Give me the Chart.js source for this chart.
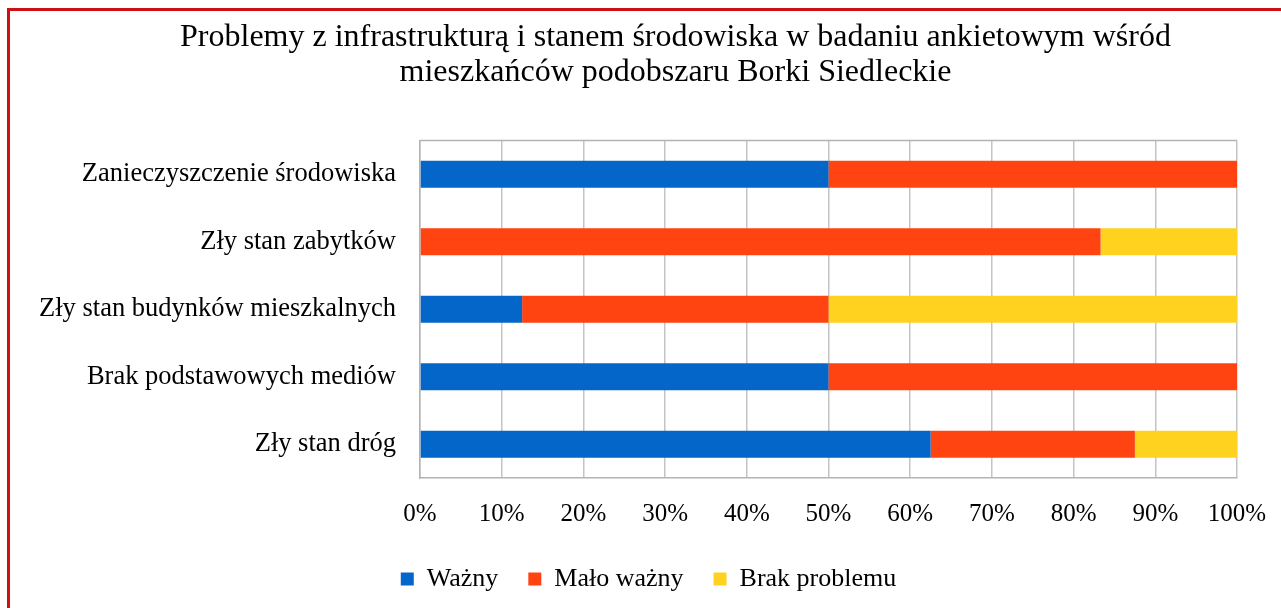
<!DOCTYPE html>
<html>
<head>
<meta charset="utf-8">
<script src="https://cdn.jsdelivr.net/npm/chart.js@4/dist/chart.umd.min.js"></script>
<style>
  html, body { margin: 0; padding: 0; background: #fff; overflow: hidden; }
  #frame { position: absolute; left: 7px; top: 8px; width: 1300px; height: 640px; border: 3px solid #d01010; box-sizing: border-box; }
  #wrap { position: absolute; left: 0; top: 0; width: 1281px; height: 608px; }
</style>
</head>
<body>
<div id="frame"></div>
<div id="wrap"><canvas id="chart"></canvas></div>
<script>
const categories = [
  'Zanieczyszczenie środowiska',
  'Zły stan zabytków',
  'Zły stan budynków mieszkalnych',
  'Brak podstawowych mediów',
  'Zły stan dróg',
]
const wazny = [50, 0, 12.5, 50, 62.5]
const maloWazny = [50, 83.3, 37.5, 50, 25]
const brakProblemu = [0, 16.7, 50, 0, 12.5]
const xTicks = [0, 10, 20, 30, 40, 50, 60, 70, 80, 90, 100]

const serif = "'Liberation Serif', 'Times New Roman', serif"

// top edge of the plot area + shift of title/legend (Excel centres them over a wider chart)
const framePlugin = {
  id: 'framePlugin',
  afterLayout(chart) {
    chart.titleBlock.left += 52
    chart.titleBlock.right += 52
    chart.legend.left += 25
    chart.legend.right += 25
  },
  afterDatasetsDraw(chart) {
    const a = chart.chartArea
    const ctx = chart.ctx
    ctx.save()
    ctx.strokeStyle = '#b3b3b3'
    ctx.lineWidth = 1.5
    ctx.beginPath()
    ctx.moveTo(a.left, a.top)
    ctx.lineTo(a.right, a.top)
    ctx.stroke()
    ctx.restore()
  },
}

new Chart(document.getElementById('chart'), {
  type: 'bar',
  data: {
    labels: categories,
    datasets: [
      { label: 'Ważny', data: wazny, backgroundColor: '#0566C9' },
      { label: 'Mało ważny', data: maloWazny, backgroundColor: '#FF4311' },
      { label: 'Brak problemu', data: brakProblemu, backgroundColor: '#FFD220' },
    ],
  },
  options: {
    indexAxis: 'y',
    responsive: true,
    maintainAspectRatio: false,
    animation: false,
    barPercentage: 0.4,
    categoryPercentage: 1,
    layout: { padding: { left: 10, right: 44, top: 0, bottom: 6 } },
    scales: {
      x: {
        stacked: true,
        min: 0,
        max: 100,
        afterBuildTicks(scale) {
          scale.ticks = xTicks.map((v) => ({ value: v }))
        },
        afterFit(scale) {
          scale.height = 58
          scale.paddingLeft = 0
          scale.paddingRight = 0
        },
        grid: { color: '#c4c4c4', lineWidth: 1.5, drawTicks: false },
        border: { display: true, color: '#b3b3b3', width: 1.5 },
        ticks: {
          padding: 21,
          color: '#000',
          font: { family: serif, size: 25 },
          callback: (v) => v + '%',
        },
      },
      y: {
        stacked: true,
        afterFit(scale) {
          scale.width = 410
        },
        grid: { display: false, drawTicks: false },
        border: { display: true, color: '#b3b3b3', width: 1.5 },
        ticks: {
          padding: 24,
          color: '#000',
          font: { family: serif, size: 26.5 },
        },
      },
    },
    plugins: {
      title: {
        display: true,
        text: [
          'Problemy z infrastrukturą i stanem środowiska w badaniu ankietowym wśród',
          'mieszkańców podobszaru Borki Siedleckie',
        ],
        color: '#000',
        font: { family: serif, size: 32, weight: 'normal', lineHeight: 1.1 },
        padding: { top: 20, bottom: 50 },
      },
      legend: {
        position: 'bottom',
        labels: {
          color: '#000',
          font: { family: serif, size: 26 },
          boxWidth: 13,
          boxHeight: 13,
          padding: 30,
        },
      },
      tooltip: { enabled: false },
    },
  },
  plugins: [framePlugin],
})
</script>
</body>
</html>
